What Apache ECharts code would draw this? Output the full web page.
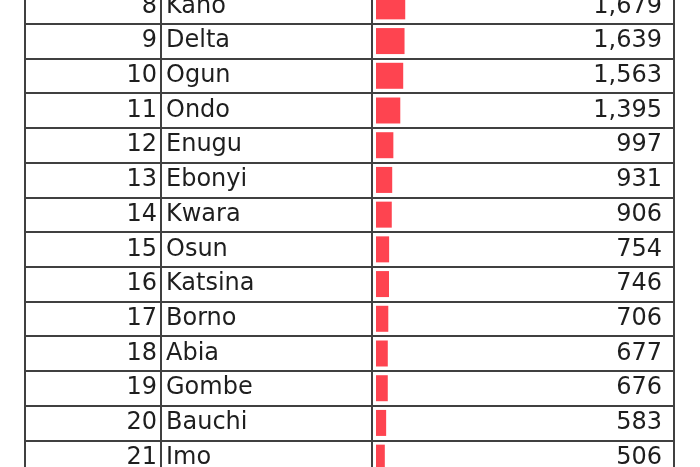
<!DOCTYPE html>
<html>
<head>
<meta charset="utf-8">
<script src="https://cdn.jsdelivr.net/npm/echarts@6/dist/echarts.min.js"></script>
<style>
html,body{margin:0;padding:0;background:#fff;overflow:hidden;}
#chart{position:absolute;left:0;top:-11px;width:700px;height:486px;}
</style>
</head>
<body>
<div id="chart"></div>
<script>
const ranks = [8, 9, 10, 11, 12, 13, 14, 15, 16, 17, 18, 19, 20, 21];
const states = ['Kano', 'Delta', 'Ogun', 'Ondo', 'Enugu', 'Ebonyi', 'Kwara', 'Osun', 'Katsina', 'Borno', 'Abia', 'Gombe', 'Bauchi', 'Imo'];
const cases = [1679, 1639, 1563, 1395, 997, 931, 906, 754, 746, 706, 677, 676, 583, 506];
const barScaleMax = 17000;

const lineColor = '#404040';
const textColor = '#1e1e1e';
const fontName = 'DejaVu Sans';
const fontPx = 24;

function fmt(v) { return v.toLocaleString('en-US'); }

const labelStyle = (margin) => ({
  inside: true, margin: margin, interval: 0,
  color: textColor, fontFamily: fontName, fontSize: fontPx
});
const splitStyle = { show: true, interval: 0, lineStyle: { color: lineColor, width: 2 } };

const chart = echarts.init(document.getElementById('chart'));
chart.setOption({
  animation: false,
  backgroundColor: '#fff',
  grid: [
    { left: 25, width: 136, top: 0, bottom: 0, show: true, borderColor: lineColor, borderWidth: 2 },
    { left: 161, width: 211, top: 0, bottom: 0, show: true, borderColor: lineColor, borderWidth: 2 },
    { left: 372, width: 302, top: 0, bottom: 0, show: true, borderColor: lineColor, borderWidth: 2 },
    { left: 376, width: 296, top: 0, bottom: 0, show: false }
  ],
  xAxis: [
    { gridIndex: 0, type: 'value', show: false },
    { gridIndex: 1, type: 'value', show: false },
    { gridIndex: 2, type: 'value', show: false },
    { gridIndex: 3, type: 'value', show: false, min: 0, max: barScaleMax }
  ],
  yAxis: [
    { gridIndex: 0, type: 'category', inverse: true, position: 'right', data: ranks.map(String),
      axisLine: { show: false }, axisTick: { show: false }, axisLabel: labelStyle(4), splitLine: splitStyle },
    { gridIndex: 1, type: 'category', inverse: true, position: 'left', data: states,
      axisLine: { show: false }, axisTick: { show: false }, axisLabel: labelStyle(5), splitLine: splitStyle },
    { gridIndex: 2, type: 'category', inverse: true, position: 'right', data: cases.map(fmt),
      axisLine: { show: false }, axisTick: { show: false }, axisLabel: labelStyle(12), splitLine: splitStyle },
    { gridIndex: 3, type: 'category', inverse: true, data: states, show: false }
  ],
  series: [
    { type: 'bar', xAxisIndex: 3, yAxisIndex: 3, data: cases, barWidth: 26,
      itemStyle: { color: '#fe4450' }, silent: true }
  ]
});
</script>
</body>
</html>
